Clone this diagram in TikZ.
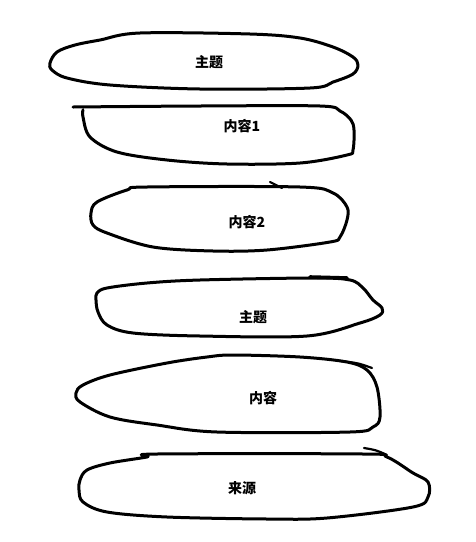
\documentclass[tikz,border=0pt]{standalone}
\usepackage{fontspec}
\newfontfamily\cjk{Noto Sans CJK SC}
\tikzset{
  sketch/.style={line width=3pt, line cap=round, line join=round, black},
  lbl/.style={font=\cjk\bfseries\fontsize{14}{16}\selectfont, inner sep=0pt}
}
\begin{document}
\begin{tikzpicture}[x=1pt,y=-1pt]
\useasboundingbox[fill=white] (0,0) rectangle (475,542);
% shape 1
\draw[sketch] plot[smooth cycle, tension=0.55] coordinates {(50,63) (57,52) (75,45) (100,40) (140,33) (250,34) (300,38) (333,47) (353,57) (358,65) (353,74) (333,82) (310,88) (200,89) (110,85) (67,78) (52,70)};
\node[lbl] (t1) at (209,62) {主题};
% shape 2 (open)
\draw[sketch] plot[smooth, tension=0.55] coordinates {(73,107) (200,106) (320,106) (340,111) (351,120) (354,130) (353,150) (347,155) (300,163) (227,164) (167,160) (117,152) (90,137) (83,117) (83,110)};
\node[lbl] (t2) at (242,126) {内容1};
% shape 3
\draw[sketch] plot[smooth cycle, tension=0.55] coordinates {(91,213) (97,202) (127,190) (147,187) (300,187) (333,193) (347,207) (347,220) (340,237) (330,242) (267,250) (213,251) (153,247) (107,233) (93,225)};
\draw[sketch, line width=2.2pt] (270,182) -- (282,188);
\node[lbl] (t3) at (247,222) {内容2};
% shape 4
\draw[sketch] plot[smooth cycle, tension=0.55] coordinates {(96,300) (97,293) (107,288) (147,283) (200,280) (313,278) (350,280) (363,288) (373,300) (382,308) (380,315) (360,323) (307,336) (200,336) (133,333) (107,325) (98,312)};
\draw[sketch, line width=3.6pt] (310,277) -- (347,278);
\node[lbl] (t4) at (253,317) {主题};
% shape 5
\draw[sketch] plot[smooth cycle, tension=0.55] coordinates {(76,393) (83,385) (110,375) (167,363) (207,357) (233,355) (300,357) (347,362) (367,370) (377,387) (380,417) (373,427) (350,432) (217,432) (157,425) (110,417) (80,402)};
\draw[sketch, line width=2.2pt] (340,361) .. controls (358,363) .. (372,368);
\node[lbl] (t5) at (263,398) {内容};
% shape 6
\draw[sketch] plot[smooth cycle, tension=0.55] coordinates {(80,480) (87,470) (110,463) (147,457) (157,454) (363,454) (387,457) (413,473) (428,482) (428,497) (413,507) (327,518) (267,519) (167,517) (107,512) (83,502) (79,490)};
\draw[sketch, line width=2.2pt] (364,448) .. controls (376,450) .. (387,455);
\node[lbl] (t6) at (242,488) {来源};
\end{tikzpicture}
\end{document}
